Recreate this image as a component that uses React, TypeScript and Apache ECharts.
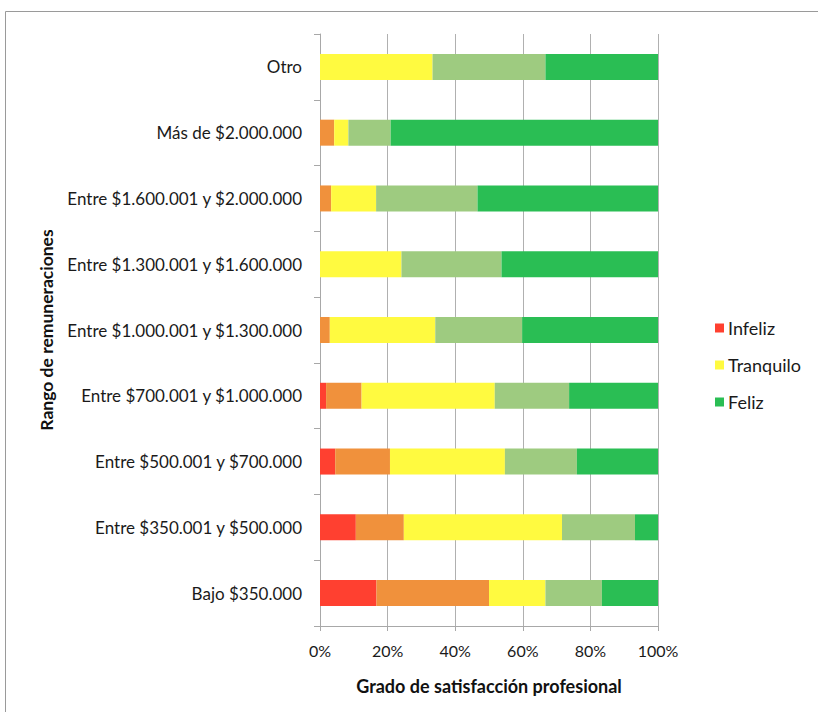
import React, { useEffect, useRef } from "react";
import * as echarts from "echarts";

const categories = [
  "Bajo $350.000",
  "Entre $350.001 y $500.000",
  "Entre $500.001 y $700.000",
  "Entre $700.001 y $1.000.000",
  "Entre $1.000.001 y $1.300.000",
  "Entre $1.300.001 y $1.600.000",
  "Entre $1.600.001 y $2.000.000",
  "Más de $2.000.000",
  "Otro",
];

const infeliz = [16.7, 10.6, 4.5, 1.8, 0, 0, 0, 0, 0];
const pocoFeliz = [33.3, 14.2, 16.2, 10.5, 2.9, 0, 3.3, 4.2, 0];
const tranquilo = [16.7, 46.8, 34.0, 39.4, 31.2, 24.1, 13.3, 4.2, 33.3];
const bastanteFeliz = [16.7, 21.6, 21.3, 22.0, 25.7, 29.6, 30.0, 12.5, 33.4];
const feliz = [16.6, 6.8, 24.0, 26.3, 40.2, 46.3, 53.4, 79.1, 33.3];

const xTicks = [0, 20, 40, 60, 80, 100];

const FONT = "Lato, 'Open Sans', sans-serif";

export default function App() {
  const ref = useRef<HTMLDivElement>(null);
  useEffect(() => {
    if (!ref.current) return;
    const chart = echarts.init(ref.current, null, { renderer: "svg" });
    const mk = (name: string, data: number[], color: string) => ({
      name,
      type: "bar",
      stack: "total",
      data,
      barWidth: 26,
      itemStyle: { color },
      emphasis: { disabled: true },
    });
    chart.setOption({
      animation: false,
      backgroundColor: "#ffffff",
      textStyle: { fontFamily: FONT },
      graphic: [
        { type: "line", shape: { x1: 5.5, y1: 11.5, x2: 818, y2: 11.5 }, style: { stroke: "#9a9a9a", lineWidth: 1 } },
        { type: "line", shape: { x1: 5.5, y1: 11.5, x2: 5.5, y2: 712 }, style: { stroke: "#9a9a9a", lineWidth: 1 } },
      ],
      legend: {
        data: ["Infeliz", "Tranquilo", "Feliz"],
        orient: "vertical",
        left: 710,
        top: 314,
        icon: "rect",
        itemWidth: 9,
        itemHeight: 9,
        itemGap: 19,
        textStyle: { fontFamily: FONT, fontSize: 18, color: "#1a1a1a", padding: [0, 0, 0, -1] },
      },
      grid: { left: 320, right: 160, top: 34, bottom: 86, containLabel: false },
      xAxis: {
        type: "value",
        min: xTicks[0],
        max: xTicks[xTicks.length - 1],
        interval: 20,
        name: "Grado de satisfacción profesional",
        nameLocation: "middle",
        nameGap: 51,
        nameTextStyle: { fontFamily: FONT, fontSize: 18, fontWeight: "bold", color: "#111" },
        axisLine: { show: true, lineStyle: { color: "#a8a8a8", width: 1 } },
        axisTick: { show: true, length: 5, lineStyle: { color: "#a8a8a8" } },
        axisLabel: { formatter: "{value}%", fontSize: 16, color: "#1a1a1a", margin: 16, fontFamily: FONT },
        splitLine: { show: true, lineStyle: { color: "#b0b0b0", width: 1 } },
      },
      yAxis: {
        type: "category",
        data: categories,
        name: "Rango de remuneraciones",
        nameLocation: "middle",
        nameRotate: 90,
        nameGap: 265,
        nameTextStyle: { fontFamily: FONT, fontSize: 17.5, fontWeight: "bold", color: "#111" },
        axisLine: { show: true, lineStyle: { color: "#a8a8a8", width: 1 } },
        axisTick: { show: true, length: 6, lineStyle: { color: "#a8a8a8" } },
        axisLabel: { fontSize: 17, color: "#1a1a1a", margin: 18, fontFamily: FONT },
      },
      series: [
        mk("Infeliz", infeliz, "#FF4030"),
        mk("Poco feliz", pocoFeliz, "#F0913C"),
        mk("Tranquilo", tranquilo, "#FFFA40"),
        mk("Bastante feliz", bastanteFeliz, "#9ECB80"),
        mk("Feliz", feliz, "#2ABE54"),
      ],
    });
    return () => chart.dispose();
  }, []);
  return <div ref={ref} style={{ width: 818, height: 712, position: "absolute", left: 0, top: 0 }} />;
}
